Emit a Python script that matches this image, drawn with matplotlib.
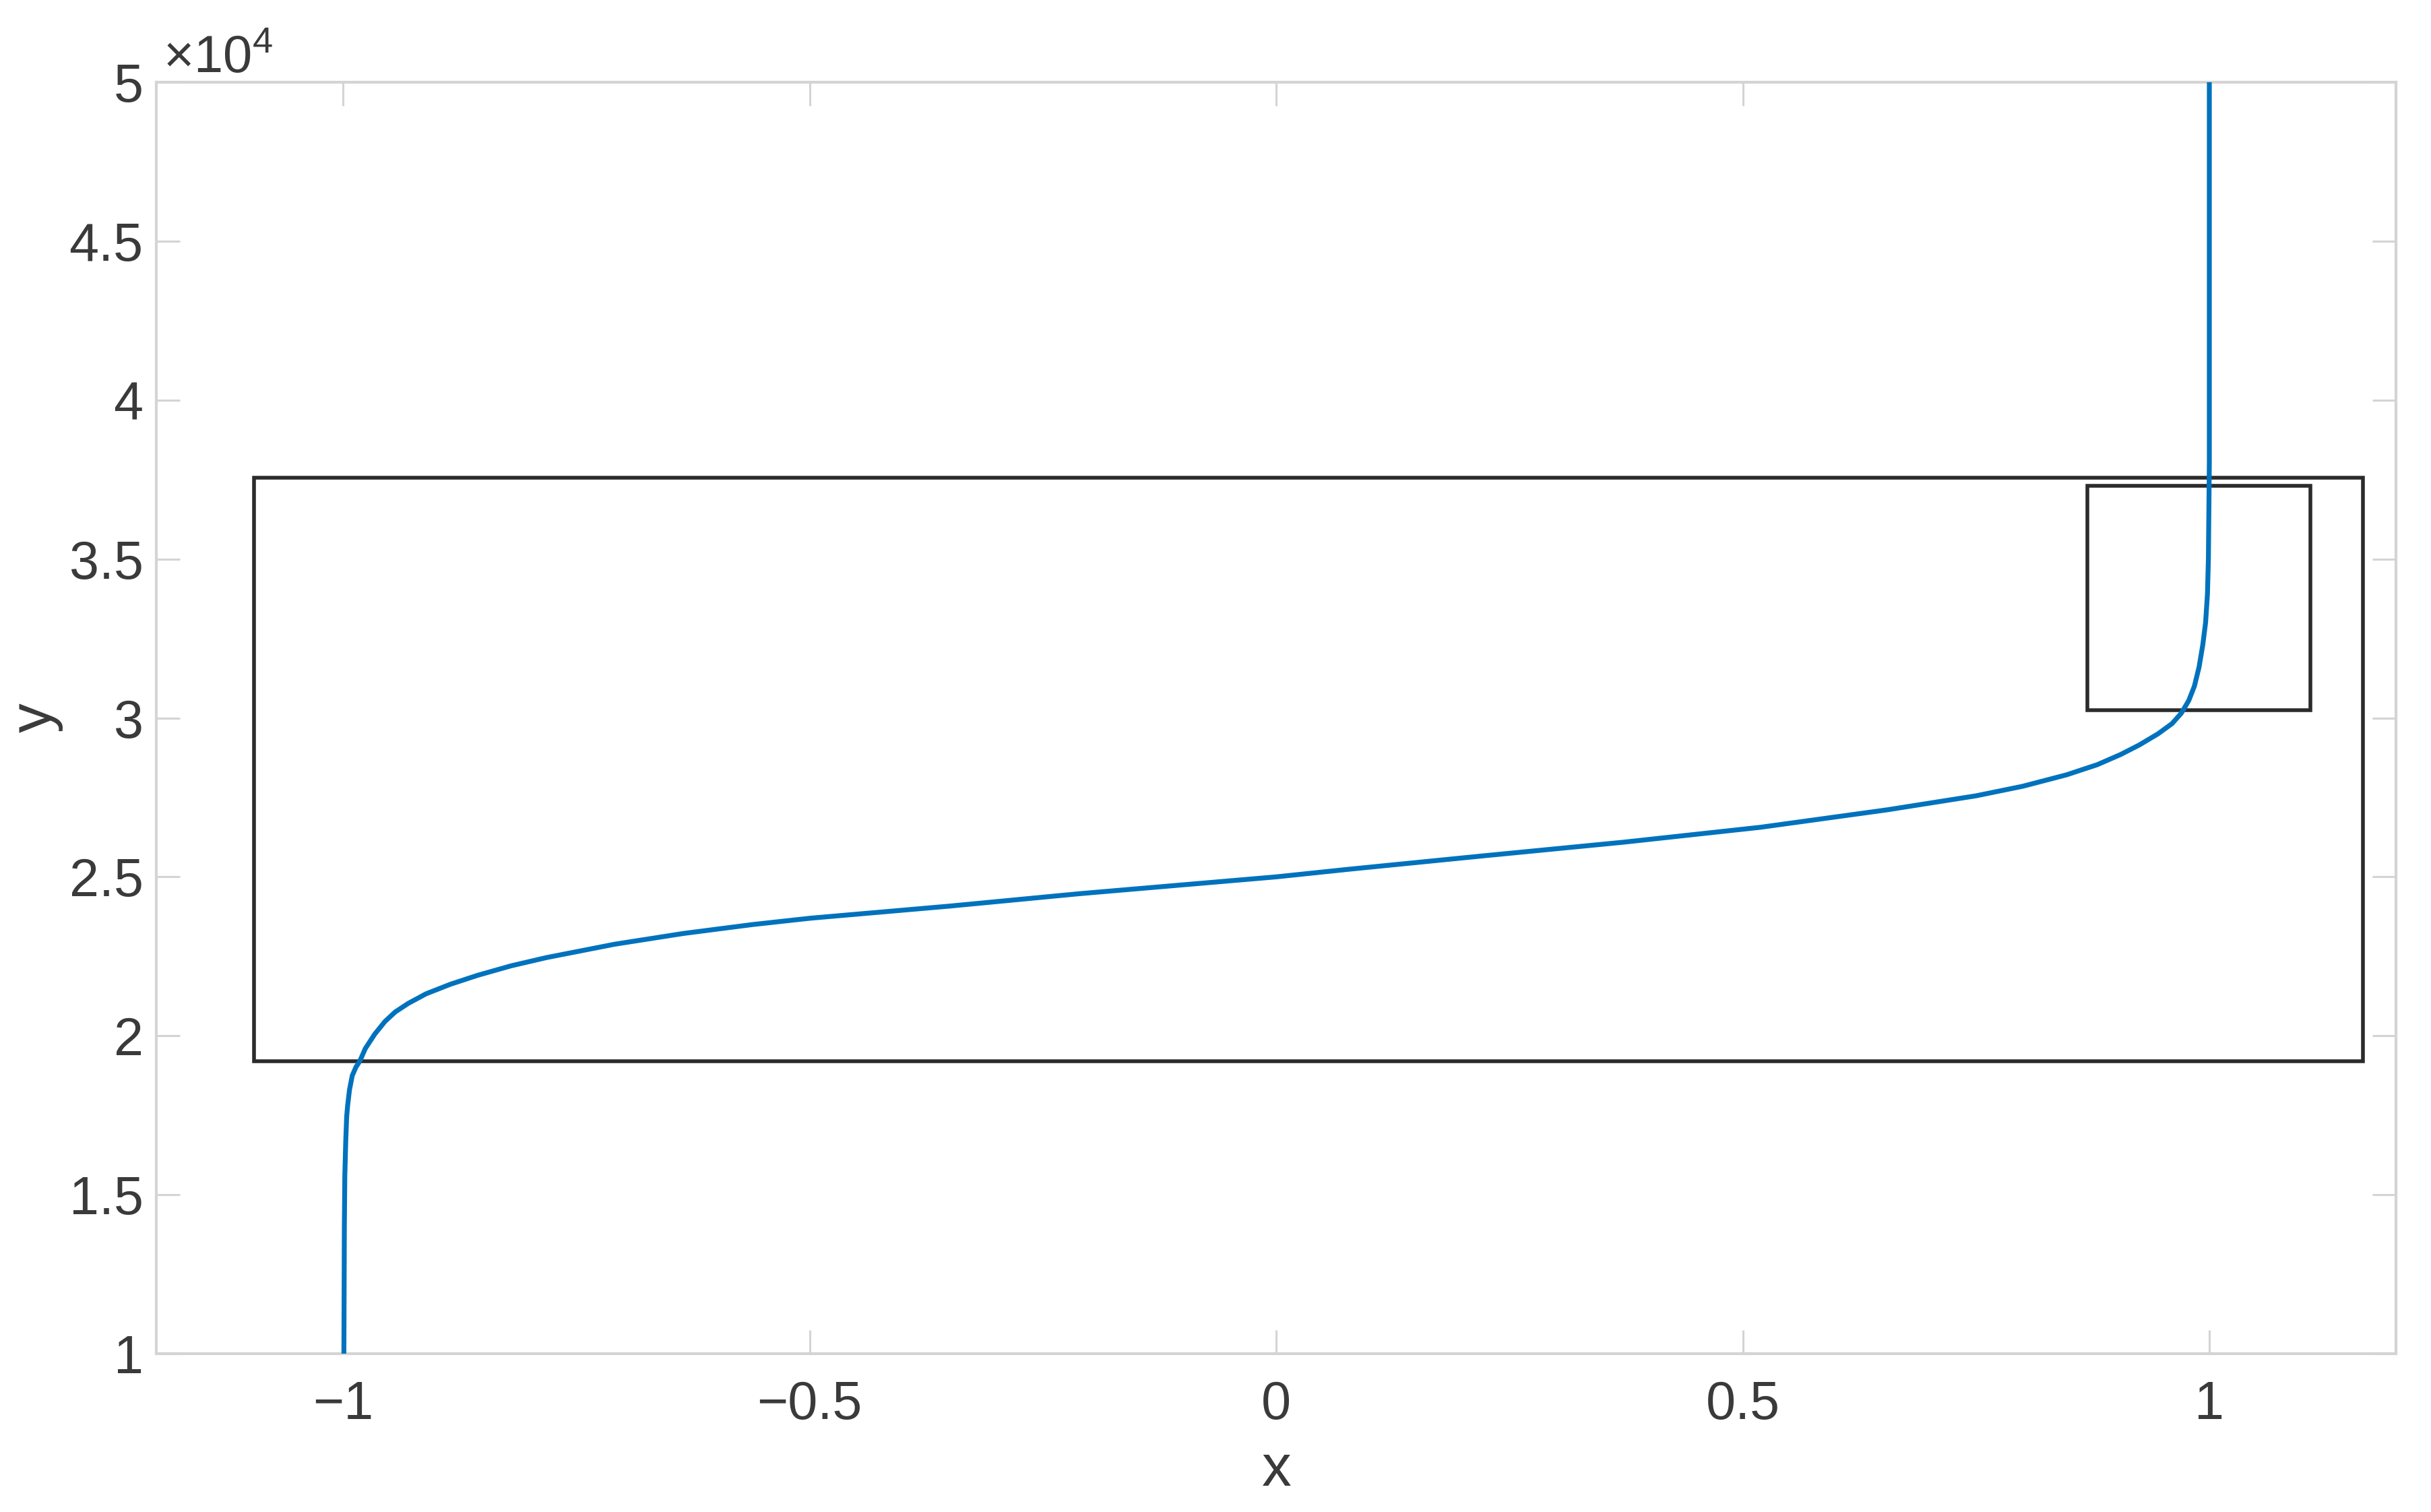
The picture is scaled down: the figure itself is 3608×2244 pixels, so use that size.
import numpy as np
import matplotlib.pyplot as plt
from matplotlib.patches import Rectangle
from matplotlib.ticker import FuncFormatter

# -----------------------------
# Data
# -----------------------------
curve_x = [-0.999, -0.9985, -0.998, -0.997, -0.996, -0.995, -0.993, -0.990,
           -0.986, -0.982, -0.976, -0.966, -0.955, -0.944, -0.930, -0.911,
           -0.885, -0.856, -0.820, -0.782, -0.709, -0.635, -0.561, -0.499,
           -0.350, -0.211, 0.0, 0.078, 0.225, 0.372, 0.519, 0.655,
           0.750, 0.800, 0.847, 0.880, 0.905, 0.925, 0.945, 0.960,
           0.970, 0.978, 0.984, 0.989, 0.993, 0.996, 0.998, 0.999,
           1.0, 1.0]
curve_y = [10000, 14000, 15600, 16700, 17460, 17800, 18300, 18750,
           19020, 19200, 19600, 20050, 20450, 20750, 21020, 21320,
           21620, 21900, 22200, 22460, 22880, 23220, 23500, 23700,
           24080, 24470, 25000, 25240, 25670, 26090, 26560, 27110,
           27550, 27850, 28210, 28530, 28850, 29150, 29500, 29820,
           30150, 30550, 31000, 31600, 32300, 33000, 33900, 35000,
           38000, 50000]

# boxes: (x_left, x_right, y_bottom, y_top)
big_box = (-1.095, 1.1645, 19200, 37550)
small_box = (0.869, 1.108, 30250, 37300)

x_ticks = [-1, -0.5, 0, 0.5, 1]
y_ticks = [10000, 15000, 20000, 25000, 30000, 35000, 40000, 45000, 50000]

# -----------------------------
# Style
# -----------------------------
plt.rcParams['font.family'] = ['Liberation Sans', 'DejaVu Sans']
plt.rcParams['mathtext.fontset'] = 'custom'
plt.rcParams['mathtext.rm'] = 'Liberation Sans'
plt.rcParams['mathtext.it'] = 'Liberation Sans:italic'

axis_grey = '#d4d4d4'
text_grey = '#3a3a3a'

fig = plt.figure(figsize=(36.08, 22.44), dpi=100, facecolor='white')
ax = fig.add_axes([232 / 3608, 1 - 2009 / 2244, (3556 - 232) / 3608, (2009 - 122) / 2244])

ax.plot(curve_x, curve_y, color='#0072BD', linewidth=5.2, zorder=3,
        solid_joinstyle='round')

for x0, x1, y0, y1 in (big_box, small_box):
    ax.add_patch(Rectangle((x0, y0), x1 - x0, y1 - y0, fill=False,
                           edgecolor='#2b2b2b', linewidth=4.0, zorder=2))

ax.set_xlim(-1.2, 1.2)
ax.set_ylim(10000, 50000)
ax.set_xticks(x_ticks)
ax.set_yticks(y_ticks)
ax.xaxis.set_major_formatter(FuncFormatter(lambda v, p: f'{v:g}'.replace('-', '\u2212')))
ax.yaxis.set_major_formatter(FuncFormatter(lambda v, p: f'{v / 1e4:g}'))

for s in ax.spines.values():
    s.set_color(axis_grey)
    s.set_linewidth(3.0)

ax.tick_params(direction='in', top=True, right=True, length=25, width=2.2,
               color=axis_grey, labelcolor=text_grey, labelsize=57)
ax.tick_params(axis='x', pad=28)
ax.tick_params(axis='y', pad=14)

ax.set_xlabel('x', fontsize=63, color=text_grey, labelpad=14)
ax.set_ylabel('y', fontsize=63, color=text_grey, labelpad=6)

# exponent label like MATLAB
ax.text(0.003, 0.999, r'$\times\mathregular{10^{4}}$', transform=ax.transAxes,
        ha='left', va='bottom', fontsize=56, color=text_grey)

fig.savefig('out.png', dpi=100, facecolor='white')
